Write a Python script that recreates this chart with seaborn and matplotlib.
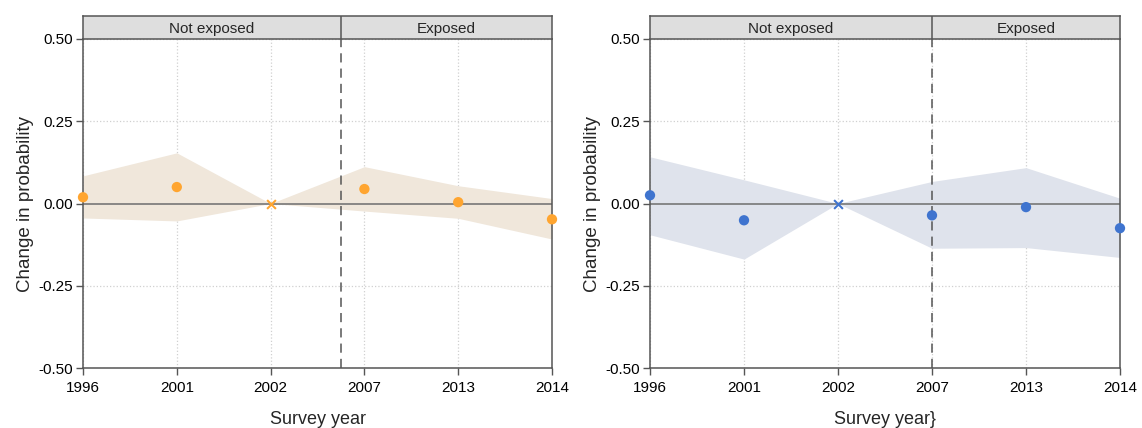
import pandas as pd
import numpy as np
import seaborn as sns
import matplotlib.pyplot as plt

years = ['1996', '2001', '2002', '2007', '2013', '2014']

# left panel (orange)
est_left = [0.019, 0.050, 0.0, 0.044, 0.004, -0.048]
upper_left = [0.084, 0.154, 0.0, 0.112, 0.054, 0.015]
lower_left = [-0.044, -0.053, 0.0, -0.023, -0.045, -0.108]

# right panel (blue)
est_right = [0.025, -0.051, 0.0, -0.036, -0.011, -0.075]
upper_right = [0.142, 0.072, 0.0, 0.067, 0.109, 0.016]
lower_right = [-0.095, -0.169, 0.0, -0.136, -0.134, -0.164]

y_ticks = [-0.50, -0.25, 0.00, 0.25, 0.50]
strip_labels = ['Not exposed', 'Exposed']
ref_year = '2002'

sns.set_theme(style='white')
plt.rcParams['font.family'] = ['Liberation Sans', 'DejaVu Sans']

W, H = 1142, 428
fig = plt.figure(figsize=(W / 100, H / 100), dpi=100)

edge = '#555555'


def panel(x0, x1, est, upper, lower, point_color, band_color, split, xlabel):
    ax = fig.add_axes([x0 / W, (H - 368) / H, (x1 - x0) / W, 329 / H])
    df = pd.DataFrame({'year': years, 'est': est, 'upper': upper, 'lower': lower})
    df['pos'] = np.arange(len(years))
    ax.fill_between(df['pos'], df['lower'], df['upper'], color=band_color, lw=0, zorder=1)
    ax.axhline(0, color='#777777', lw=1.2, zorder=2)
    pts = df[df['year'] != ref_year]
    ref = df[df['year'] == ref_year]
    sns.scatterplot(data=pts, x='pos', y='est', color=point_color, s=55,
                    edgecolor='none', ax=ax, zorder=4, clip_on=False)
    ax.scatter(ref['pos'], ref['est'], marker='x', color=point_color, s=40,
               lw=1.5, zorder=4)
    ax.axvline(split, color=edge, lw=1.1, ls=(0, (6, 4)), zorder=3)

    ax.set_xlim(0, len(years) - 1)
    ax.set_ylim(-0.5, 0.5)
    ax.set_xticks(df['pos'])
    ax.set_xticklabels(years)
    ax.set_yticks(y_ticks)
    ax.set_yticklabels([f'{v:.2f}' for v in y_ticks])
    ax.grid(True, color='#d0d0d0', ls=':', lw=0.9)
    ax.tick_params(axis='both', direction='out', length=5, width=1, color=edge,
                   labelsize=11, labelcolor='black', pad=2.5, left=True, bottom=True)
    ax.tick_params(axis='x', pad=4)
    for s in ['left', 'right', 'bottom']:
        ax.spines[s].set_color(edge)
        ax.spines[s].set_linewidth(1.1)
    ax.spines['top'].set_visible(False)
    ax.set_xlabel(xlabel, fontsize=13, labelpad=12)
    ax.set_ylabel('Change in probability', fontsize=13.5, labelpad=3)

    # facet-style strip above the panel
    st = fig.add_axes([x0 / W, (H - 39) / H, (x1 - x0) / W, 23 / H])
    st.set_xlim(0, len(years) - 1)
    st.set_ylim(0, 1)
    st.axvspan(0, len(years) - 1, color='#dedede', zorder=0)
    st.axvline(split, color=edge, lw=1.1)
    st.set_xticks([])
    st.set_yticks([])
    for s in st.spines.values():
        s.set_color(edge)
        s.set_linewidth(1.1)
    st.text(split / 2, 0.42, strip_labels[0], ha='center', va='center', fontsize=11)
    st.text((split + len(years) - 1) / 2, 0.42, strip_labels[1], ha='center',
            va='center', fontsize=11)
    return ax


panel(83, 552, est_left, upper_left, lower_left, '#ffa530', '#f0e7db', 2.75, 'Survey year')
panel(650, 1120, est_right, upper_right, lower_right, '#3f74cf', '#dfe3ec', 3, 'Survey year}')

fig.savefig('out.png', dpi=100)
